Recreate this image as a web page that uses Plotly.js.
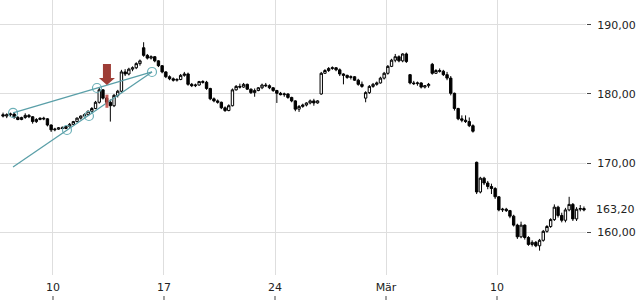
<!DOCTYPE html>
<html><head><meta charset="utf-8">
<script src="https://cdn.plot.ly/plotly-3.0.1.min.js"></script>
<style>html,body{margin:0;padding:0;background:#fff}#chart{width:640px;height:300px}</style>
</head><body><div id="chart"></div>
<script>
// Candles: 6 per trading day; first two belong to the day before Feb 6 (Wed Feb 5, late session)
const openP = [
177.0,176.8,
177.0,177.1,176.6,176.3,176.6,176.9,
176.7,176.0,176.3,176.5,176.4,175.5,
174.8,174.9,175.1,175.0,175.3,175.6,
176.0,176.5,176.8,177.0,177.5,177.9,
178.8,180.6,179.4,178.8,178.3,179.8,
180.4,183.2,182.9,183.6,183.8,184.4,
186.7,185.6,185.2,185.4,184.8,184.1,
183.2,182.5,182.2,182.0,182.1,182.7,
182.9,181.4,181.2,181.3,181.8,181.7,
180.8,179.3,179.0,178.8,178.0,177.6,
178.3,180.6,181.1,181.0,181.4,180.7,
180.2,180.5,180.9,181.3,181.2,180.9,
180.5,180.1,179.9,180.0,179.5,179.0,
177.8,178.2,178.4,178.7,179.0,178.7,
180.0,183.0,183.4,183.7,183.8,183.5,
182.9,182.7,182.4,182.5,182.0,181.4,
179.4,180.2,181.1,181.4,181.6,182.3,
183.0,184.0,184.9,185.4,184.8,185.8,
182.8,181.6,181.5,181.6,181.0,181.2,
184.3,183.0,183.4,183.3,182.8,182.3,
180.1,177.9,176.4,176.2,176.0,175.4,
170.1,165.8,167.8,167.1,166.6,166.3,
165.1,163.2,163.3,163.1,162.3,161.0,
159.3,161.0,159.2,158.2,158.5,158.0,
158.8,160.1,160.8,161.8,163.6,162.4,
161.7,163.2,164.0,161.9,163.3,163.4
];
const highP = [
177.3,177.2,
177.3,177.3,176.8,176.7,177.2,177.1,
176.8,176.5,176.6,176.7,176.5,175.6,
175.1,175.2,175.3,175.4,175.8,176.1,
176.6,176.9,177.2,177.6,178.1,179.0,
180.9,180.7,179.6,179.2,180.0,180.6,
183.5,183.6,183.8,184.0,184.6,185.0,
187.5,185.8,185.6,185.5,184.9,184.2,
183.3,182.7,182.4,182.3,182.9,183.2,
183.1,181.6,181.5,181.9,182.0,181.9,
180.9,179.5,179.2,178.9,178.2,178.5,
180.8,181.3,181.5,181.6,181.5,180.8,
180.8,181.0,181.5,181.6,181.4,181.0,
180.6,180.3,180.2,180.1,179.6,179.1,
178.4,178.6,178.8,179.2,179.3,179.1,
183.2,183.6,183.9,184.0,183.9,183.7,
183.0,182.8,182.7,182.6,182.2,181.8,
180.4,181.3,181.6,181.8,182.5,183.2,
184.2,185.1,185.8,185.6,185.9,186.0,
182.9,181.9,181.8,181.7,181.3,181.6,
184.5,183.6,183.7,183.5,183.2,182.6,
180.2,178.0,176.9,176.9,176.6,175.6,
170.2,168.0,168.0,167.4,167.0,166.5,
165.2,163.5,163.5,163.2,162.5,161.2,
161.5,161.1,159.4,158.8,158.7,159.0,
160.3,161.0,162.0,164.0,163.8,162.8,
163.5,165.1,164.2,163.6,163.9,163.7
];
const lowP = [
176.6,176.5,
176.7,176.4,176.2,176.2,176.4,176.5,
175.7,175.8,176.2,176.2,175.3,174.5,
174.6,174.8,174.9,174.9,175.1,175.5,
175.9,176.3,176.5,176.9,177.3,177.8,
178.6,179.2,178.5,176.0,178.1,179.5,
180.2,182.6,182.7,183.3,183.6,184.1,
185.4,185.0,185.0,184.6,183.9,183.0,
182.3,182.0,181.8,181.8,182.0,182.5,
181.2,181.0,181.0,181.2,181.5,180.6,
179.1,178.8,178.6,177.8,177.4,177.5,
178.2,180.5,180.8,180.9,180.6,180.0,
179.6,180.4,180.7,181.0,180.7,180.3,
178.7,179.8,179.6,179.3,178.8,177.5,
177.4,178.0,178.2,178.5,178.3,178.6,
179.9,182.9,183.2,183.5,183.3,182.6,
181.4,182.2,182.1,181.9,181.2,180.9,
178.8,180.0,180.9,181.2,181.5,182.1,
182.8,183.9,184.6,184.6,184.6,184.5,
181.4,181.3,181.2,180.8,180.8,180.9,
182.8,182.9,183.1,182.6,182.0,179.8,
177.6,176.2,175.9,175.8,175.2,174.4,
165.5,165.6,166.8,166.2,165.5,164.8,
163.0,162.9,162.9,162.0,160.8,159.0,
159.1,158.9,158.0,157.9,157.8,157.3,
158.6,159.9,160.6,161.6,162.1,161.4,
161.4,163.0,161.6,161.6,163.0,163.0
];
const closeP = [
176.8,177.0,
177.1,176.6,176.3,176.6,176.9,176.7,
176.0,176.3,176.5,176.4,175.5,174.8,
174.9,175.1,175.0,175.3,175.6,176.0,
176.5,176.8,177.0,177.5,177.9,178.8,
180.6,179.4,178.8,178.3,179.8,180.4,
183.2,182.9,183.6,183.8,184.4,184.8,
185.6,185.2,185.4,184.8,184.1,183.2,
182.5,182.2,182.0,182.1,182.7,182.9,
181.4,181.2,181.3,181.8,181.7,180.8,
179.3,179.0,178.8,178.0,177.6,178.3,
180.6,181.1,181.0,181.4,180.7,180.2,
180.5,180.9,181.3,181.2,180.9,180.5,
180.1,179.9,180.0,179.5,179.0,177.8,
178.2,178.4,178.7,179.0,178.7,179.0,
183.0,183.4,183.7,183.8,183.5,182.9,
182.7,182.4,182.5,182.0,181.4,181.1,
180.2,181.1,181.4,181.6,182.3,183.0,
184.0,184.9,185.4,184.8,185.8,184.7,
181.6,181.5,181.6,181.0,181.2,181.4,
183.0,183.4,183.3,182.8,182.3,180.1,
177.9,176.4,176.2,176.0,175.4,174.6,
165.8,167.8,167.1,166.6,166.3,165.1,
163.2,163.3,163.1,162.3,161.0,159.3,
161.0,159.2,158.2,158.5,158.0,158.8,
160.1,160.8,161.8,163.6,162.4,161.7,
163.2,164.0,161.9,163.3,163.4,163.2
];
// x axis: trading-day index, 0 = Mon Feb 10
const xTickVals = [0, 5, 10, 15, 20];
const xTickText = ['10', '17', '24', 'Mär', '10'];
const yTickVals = [160, 170, 180, 190];
const lastPrice = 163.20;
// drawing-tool overlays (trading-day index, price)
const upperLineT = [-1.80, 4.46], upperLineP = [177.25, 183.19];
const lowerLineT = [-1.80, 4.46], lowerLineP = [169.42, 183.19];
const anchorT = [-1.80, 1.98, 4.46, 0.63, 1.62];
const anchorP = [177.25, 180.87, 183.19, 174.78, 176.81];
const signalT = 2.43, signalP = 181.3;      // red arrow tip
const markT = 2.43, markP = [178.0, 179.9]; // small red marker

const slotsPerDay = 6, firstSlot = 4;
const candleT = openP.map((_, i) => -3 + (i + firstSlot + 0.5) / slotsPerDay);

const W = 640, H = 300, MR = 54, plotW = W - MR, plotH = 275;
const xMin = -2.387, xMax = 24.009, yMin = 153.77, yMax = 193.62;
const pxX = plotW / (xMax - xMin), pxY = plotH / (yMax - yMin);
const tx = (t, dx) => t + dx / pxX;
const ty = (p, dy) => p - dy / pxY;

const arrowPx = [[-4,-21],[4,-21],[4,-7],[8,-7],[0,0],[-8,-7],[-4,-7]];
const arrowPath = 'M' + arrowPx.map(([dx,dy]) => tx(signalT,dx) + ',' + ty(signalP,dy)).join(' L') + ' Z';

const teal = '#5a9fa8';
const shapes = [
  {type:'line', xref:'x', yref:'y', x0:upperLineT[0], y0:upperLineP[0], x1:upperLineT[1], y1:upperLineP[1], line:{color:teal, width:1.3}},
  {type:'line', xref:'x', yref:'y', x0:lowerLineT[0], y0:lowerLineP[0], x1:lowerLineT[1], y1:lowerLineP[1], line:{color:teal, width:1.3}},
  {type:'path', xref:'x', yref:'y', path:arrowPath, fillcolor:'#9e3d36', line:{width:0}},
  {type:'rect', xref:'x', yref:'y', x0:tx(markT,-1.5), x1:tx(markT,1.5), y0:markP[0], y1:markP[1], fillcolor:'rgba(190,70,65,0.85)', line:{width:0}}
];
xTickVals.forEach(v => shapes.push({type:'line', xref:'x', yref:'paper', x0:v, x1:v, y0:0, y1:4/H, line:{color:'#444', width:1}}));

const traces = [
  {type:'candlestick', x:candleT, open:openP, high:highP, low:lowP, close:closeP,
   increasing:{line:{color:'#000', width:1}, fillcolor:'#fff'},
   decreasing:{line:{color:'#000', width:1}, fillcolor:'#000'},
   whiskerwidth:0, hoverinfo:'skip', showlegend:false},
  {type:'scatter', mode:'markers', x:anchorT, y:anchorP,
   marker:{symbol:'circle-open', size:9, color:'#6cb0b8', line:{width:1.2}}, hoverinfo:'skip', showlegend:false}
];

const layout = {
  width:W, height:H, margin:{l:0, r:MR, t:0, b:0}, paper_bgcolor:'#fff', plot_bgcolor:'#fff',
  font:{family:'DejaVu Sans', size:11, color:'#222'}, separators:',.', showlegend:false,
  boxgap:0.08,
  xaxis:{range:[xMin, xMax], tickvals:xTickVals, ticktext:xTickText, ticks:'', showgrid:true,
         gridcolor:'#dedede', gridwidth:1, zeroline:false, showline:false, rangeslider:{visible:false},
         ticklabelstandoff:4, fixedrange:true},
  yaxis:{domain:[(H - plotH) / H, 1], range:[yMin, yMax], side:'right', tickvals:yTickVals, tickformat:'.2f',
         ticks:'outside', ticklen:4, tickcolor:'#444', showgrid:true, gridcolor:'#dedede', zeroline:false,
         showline:false, ticklabelstandoff:4, fixedrange:true},
  shapes:shapes,
  annotations:[{xref:'paper', yref:'y', x:1, y:lastPrice, xanchor:'left', xshift:8, text:'163,20', showarrow:false,
                font:{family:'DejaVu Sans', size:11, color:'#222'}}]
};
Plotly.newPlot('chart', traces, layout, {displayModeBar:false, staticPlot:true});
</script></body></html>
